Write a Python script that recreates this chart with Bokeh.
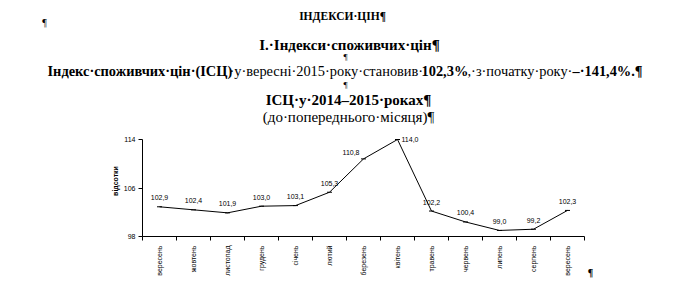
import math
from bokeh.plotting import figure
from bokeh.layouts import column, row
from bokeh.models import ColumnDataSource, FixedTicker, Label, Range1d
from bokeh.embed import file_html
from bokeh.resources import INLINE
from bokeh.core.properties import value

# ---- data ----
months = ["вересень", "жовтень", "листопад", "грудень", "січень", "лютий",
          "березень", "квітень", "травень", "червень", "липень", "серпень",
          "вересень"]
cpi = [102.9, 102.4, 101.9, 103.0, 103.1, 105.3, 110.8, 114.0,
       102.2, 100.4, 99.0, 99.2, 102.3]
y_ticks = [98, 106, 114]
y_label = "відсотки"

title_top = "ІНДЕКСИ·ЦІН¶"
title_1 = "І.·Індекси·споживчих·цін¶"
line3_parts = ["Індекс·споживчих·цін·(ІСЦ)", "·у·вересні·2015·року·становив·",
               "102,3%", ",·з·початку·року·", "–·141,4%.¶"]
line3_bold = [True, False, True, False, True]
chart_title = "ІСЦ·у·2014–2015·роках¶"
chart_subtitle = "(до·попереднього·місяця)¶"
corner_mark = "¶"

# ---- layout constants (canvas px) ----
W, H = 688, 282
HEAD_H = 125                 # header strip height
CHART_W = 586                # chart figure width
SIDE_W = 8                   # strip holding the corner mark
FL, FR, FT, FB = 142, 584, 139, 236  # axis box edges
SERIF = "Liberation Serif"
SANS = "Liberation Sans"


def blank_fig(w, h, xr, yr):
    f = figure(width=w, height=h, output_backend="svg", toolbar_location=None,
               x_range=Range1d(*xr), y_range=Range1d(*yr),
               x_axis_location=None, y_axis_location=None, min_border=0)
    f.outline_line_color = None
    f.xgrid.visible = False
    f.ygrid.visible = False
    return f


def add_label(f, text, cx, cy, size, bold=False, align="center", font=SERIF):
    f.add_layout(Label(x=cx, y=cy, text=text, text_align=align, text_baseline="middle",
                       text_font=font, text_font_size=f"{size}px",
                       text_font_style="bold" if bold else "normal",
                       text_color="black"))


# ---- header ----
head = blank_fig(W, HEAD_H, (0, W), (HEAD_H, 0))
add_label(head, title_top, 342, 15, 11.5, bold=True)
add_label(head, "¶", 44, 22, 10)
add_label(head, title_1, 349, 44, 15, bold=True)
add_label(head, "¶", 345, 56, 9)
line3_x = [47, 229, 421, 467, 572]
for txt, bx, b in zip(line3_parts, line3_x, line3_bold):
    add_label(head, txt, bx, 70, 14.4, bold=b, align="left")
add_label(head, "¶", 345, 84, 9)
add_label(head, chart_title, 348, 99, 15, bold=True)
add_label(head, chart_subtitle, 348, 116, 15)

# ---- chart ----
xs = list(range(len(cpi)))
labels = [f"{v:.1f}".replace(".", ",") for v in cpi]
peak = cpi.index(max(cpi))
align, xo, yo = [], [], []
for i in xs:
    if i == peak:
        align.append("left"); xo.append(4); yo.append(0)
    elif i == peak - 1:
        align.append("right"); xo.append(-4); yo.append(-6)
    else:
        align.append("center"); xo.append(0); yo.append(-9)

src = ColumnDataSource(dict(x=xs, y=cpi, t=labels, a=align, xo=xo, yo=yo))

y0, y1 = min(y_ticks), max(y_ticks)
y_top = y1 + (FT - HEAD_H) * (y1 - y0) / (FB - FT)   # frame extends above the axis top

p = figure(width=CHART_W, height=H - HEAD_H, output_backend="svg", toolbar_location=None,
           x_range=Range1d(-0.5, len(cpi) - 0.5), y_range=Range1d(y0, y_top),
           min_border_left=FL, min_border_right=CHART_W - FR,
           min_border_top=0, min_border_bottom=H - FB)
p.outline_line_color = None
p.xgrid.visible = False
p.ygrid.visible = False

p.line("x", "y", source=src, line_color="black", line_width=1)
p.scatter("x", "y", source=src, marker="dash", size=5, line_color="black")
p.text("x", "y", text="t", source=src, text_align="a", text_baseline="middle",
       x_offset="xo", y_offset="yo", text_font=value(SANS),
       text_font_size="7px", text_color="black")

xa = p.xaxis[0]
xa.ticker = FixedTicker(ticks=xs, minor_ticks=[i - 0.5 for i in range(len(cpi) + 1)])
xa.major_label_overrides = {i: m for i, m in enumerate(months)}
xa.major_label_orientation = math.pi / 2
xa.major_tick_out = 0
xa.major_tick_in = 0
xa.minor_tick_out = 4
xa.minor_tick_in = 0
xa.minor_tick_line_color = "black"
xa.axis_line_color = "black"
xa.major_label_text_font = SANS
xa.major_label_text_font_size = "7px"
xa.major_label_text_color = "black"
xa.major_label_standoff = 5

ya = p.yaxis[0]
ya.ticker = FixedTicker(ticks=y_ticks)
ya.bounds = (y0, y1)
ya.major_tick_out = 4
ya.major_tick_in = 0
ya.minor_tick_out = 0
ya.minor_tick_in = 0
ya.axis_line_color = "black"
ya.major_tick_line_color = "black"
ya.major_label_text_font = SANS
ya.major_label_text_font_size = "7px"
ya.major_label_text_color = "black"
ya.major_label_standoff = 3
ya.axis_label = y_label
ya.axis_label_text_font = SANS
ya.axis_label_text_font_size = "7px"
ya.axis_label_text_font_style = "bold"
ya.axis_label_text_color = "black"
ya.axis_label_standoff = 2

# ---- narrow strip carrying the corner mark as an axis caption ----
side = figure(width=SIDE_W, height=H - HEAD_H, output_backend="svg", toolbar_location=None,
              x_range=Range1d(0, 1), y_range=Range1d(0, 1), y_axis_location=None,
              min_border=0, min_border_bottom=H - FB)
side.outline_line_color = None
side.xgrid.visible = False
side.ygrid.visible = False
sa = side.xaxis[0]
sa.ticker = FixedTicker(ticks=[])
sa.axis_line_color = None
sa.major_tick_out = 0
sa.major_tick_in = 0
sa.minor_tick_out = 0
sa.minor_tick_in = 0
sa.major_label_standoff = 0
sa.axis_label = corner_mark
sa.axis_label_text_font = SERIF
sa.axis_label_text_font_size = "10px"
sa.axis_label_text_font_style = "bold"
sa.axis_label_text_color = "black"
sa.axis_label_standoff = 30

layout = column(head, row(p, side, spacing=0), spacing=0)
open("out.html", "w").write(file_html(layout, INLINE))
